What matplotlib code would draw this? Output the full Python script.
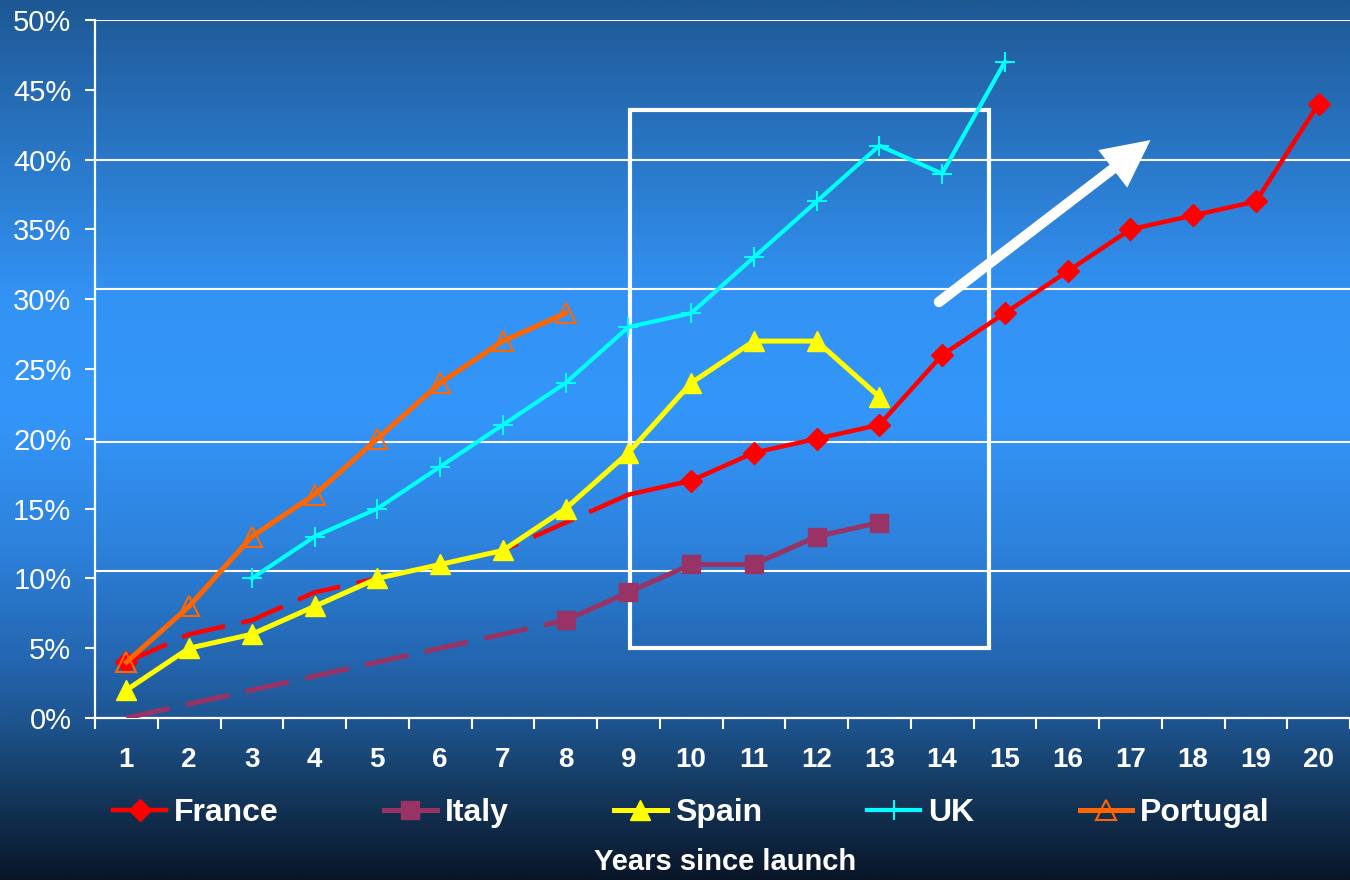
import numpy as np
import matplotlib
matplotlib.use('Agg')
import matplotlib.pyplot as plt
from matplotlib.lines import Line2D
from matplotlib.colors import LinearSegmentedColormap
from matplotlib.patches import Rectangle

# ---------------- data ----------------
years = list(range(1, 21))
france = [4, 6, 7, 9, 10, 11, 12, 14, 16, 17, 19, 20, 21, 26, 29, 32, 35, 36, 37, 44]
italy_years = list(range(1, 14))
italy = [0, 1, 2, 3, 4, 5, 6, 7, 9, 11, 11, 13, 14]
spain_years = list(range(1, 14))
spain = [2, 5, 6, 8, 10, 11, 12, 15, 19, 24, 27, 27, 23]
uk_years = list(range(3, 16))
uk = [10, 13, 15, 18, 21, 24, 28, 29, 33, 37, 41, 39, 47]
portugal_years = list(range(1, 9))
portugal = [4, 8, 13, 16, 20, 24, 27, 29]
series_names = ["France", "Italy", "Spain", "UK", "Portugal"]
y_ticks = [0, 5, 10, 15, 20, 25, 30, 35, 40, 45, 50]
y_tick_labels = [f"{v}%" for v in y_ticks]
x_label = "Years since launch"

# ---------------- style ----------------
plt.rcParams['font.family'] = ['Liberation Sans', 'DejaVu Sans']
plt.rcParams['lines.scale_dashes'] = False

C_FR = '#ff0000'
C_IT = '#993366'
C_ES = '#ffff00'
C_UK = '#00ffff'
C_PT = '#ff6600'

fig = plt.figure(figsize=(13.5, 8.8), dpi=100)

# background gradient
bg = fig.add_axes([0, 0, 1, 1], zorder=-10)
stops = [(0.00, '#1e5894'), (0.18, '#2a78c8'), (0.34, '#3393f5'),
         (0.47, '#3496fa'), (0.62, '#2d82dc'), (0.75, '#2466b0'),
         (0.82, '#1e5590'), (0.90, '#15395f'), (1.00, '#0a1628')]
cmap = LinearSegmentedColormap.from_list('bg', stops)
grad = np.linspace(0, 1, 880).reshape(-1, 1)
bg.imshow(grad, aspect='auto', cmap=cmap, extent=[0, 1, 0, 1], origin='upper')
bg.axis('off')

ax = fig.add_axes([95 / 1350, 1 - 718 / 880, 1 - 95 / 1350, (718 - 20) / 880])
ax.set_facecolor('none')
ax.set_xlim(0.5, 20.5)
ax.set_ylim(0, 50)

# irregular gridlines as in the reference
for gy in [10.5, 19.8, 30.7, 40, 50]:
    ax.axhline(gy, color='white', lw=1.5, zorder=1)

# box & arrow annotations
ax.add_patch(Rectangle((9.02, 5.0), 14.75 - 9.02, 43.55 - 5.0, fill=False,
                       ec='white', lw=3, zorder=1.5))
ax.annotate('', xy=(17.32, 41.4), xytext=(13.95, 29.8),
            arrowprops=dict(arrowstyle='-|>,head_length=1.1,head_width=0.55',
                            lw=7.5, color='white', mutation_scale=20,
                            shrinkA=0, shrinkB=0, capstyle='round',
                            joinstyle='miter'), zorder=2)

dash = (32, 12)
# France
ax.plot(years[:9], france[:9], color=C_FR, lw=3.2, dashes=dash, zorder=3)
ax.plot(years[8:], france[8:], color=C_FR, lw=3.2, zorder=3)
ax.plot([years[0]] + years[9:], [france[0]] + france[9:], ls='none',
        marker='D', ms=11, color=C_FR, zorder=3.1)
# Italy
ax.plot(italy_years[:8], italy[:8], color=C_IT, lw=3.6, dashes=dash, zorder=3.2)
ax.plot(italy_years[7:], italy[7:], color=C_IT, lw=3.6, marker='s', ms=13,
        zorder=3.2)
# Spain
ax.plot(spain_years, spain, color=C_ES, lw=3.6, marker='^', ms=14, zorder=3.4)
# UK
ax.plot(uk_years, uk, color=C_UK, lw=3, marker='+', ms=15, mew=1.5, zorder=3.6)
# Portugal
ax.plot(portugal_years, portugal, color=C_PT, lw=3.6, marker='^', ms=14,
        mfc='none', mec=C_PT, mew=1.5, zorder=3.8)

# axes styling
for s in ['top', 'right']:
    ax.spines[s].set_visible(False)
for s in ['left', 'bottom']:
    ax.spines[s].set_color('white')
    ax.spines[s].set_linewidth(1.6)

ax.set_yticks(y_ticks)
ax.set_yticklabels(y_tick_labels)
ax.tick_params(axis='y', colors='white', labelsize=21, length=7, width=1.5,
               direction='out', pad=10)
ax.set_xticks(years)
ax.set_xticklabels([str(y) for y in years], fontweight='bold')
ax.set_xticks(np.arange(0.5, 21, 1), minor=True)
ax.tick_params(axis='x', which='major', colors='white', labelsize=20, length=0, pad=21)
ax.tick_params(axis='x', which='minor', colors='white', length=8, width=1.5,
               direction='out')

# legend
handles = [
    Line2D([], [], color=C_FR, lw=3.2, marker='D', ms=11),
    Line2D([], [], color=C_IT, lw=3.6, marker='s', ms=13),
    Line2D([], [], color=C_ES, lw=3.6, marker='^', ms=14),
    Line2D([], [], color=C_UK, lw=3, marker='+', ms=15, mew=1.5),
    Line2D([], [], color=C_PT, lw=3.6, marker='^', ms=14, mfc='none', mec=C_PT, mew=1.5),
]
leg = fig.legend(handles, series_names, loc='center', ncol=5, frameon=False,
                 bbox_to_anchor=(691.5 / 1350, 1 - 813 / 880),
                 prop={'size': 23, 'weight': 'bold'}, handlelength=1.65,
                 handletextpad=0.25, columnspacing=3.3, borderpad=0,
                 borderaxespad=0)
for t in leg.get_texts():
    t.set_color('white')

fig.text(725 / 1350, 1 - 862 / 880, x_label, color='white', fontsize=21,
         fontweight='bold', ha='center', va='center')

fig.savefig('out.png', dpi=100)
